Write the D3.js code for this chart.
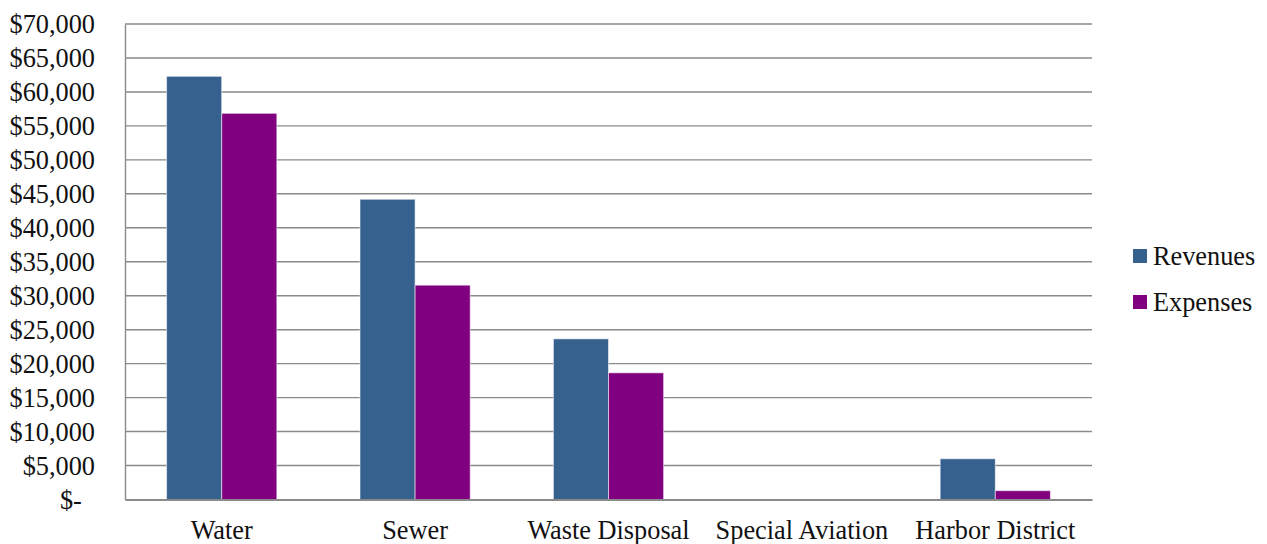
<!DOCTYPE html>
<html>
<head>
<meta charset="utf-8">
<script src="https://cdn.jsdelivr.net/npm/d3@7"></script>
<style>
  html, body { margin: 0; padding: 0; background: #fff; }
  svg { display: block; }
  text { font-family: "Liberation Serif", "Times New Roman", serif; fill: #111; }
</style>
</head>
<body>
<svg id="chart" width="1267" height="544"></svg>
<script>
// Enterprise funds: revenues and expenses by fund
const categories = ["Water", "Sewer", "Waste Disposal", "Special Aviation", "Harbor District"];
const revenues = [62300, 44200, 23650, 0, 6000];
const expenses = [56850, 31550, 18650, 0, 1300];
const seriesNames = ["Revenues", "Expenses"];
const seriesColors = ["#36618f", "#800080"];
const yTicks = [0, 5000, 10000, 15000, 20000, 25000, 30000, 35000, 40000, 45000, 50000, 55000, 60000, 65000, 70000];

const svg = d3.select("#chart");
const margin = { left: 125, right: 175, top: 24, bottom: 44.5 };
const W = 1267, H = 544;
const plotW = W - margin.left - margin.right;
const plotH = H - margin.top - margin.bottom;
const fontSize = 26.3;

const g = svg.append("g").attr("transform", `translate(${margin.left},${margin.top})`);

const x = d3.scaleBand().domain(categories).range([0, plotW]).paddingInner(0.43).paddingOuter(0.215);
const xs = d3.scaleBand().domain(seriesNames).range([0, x.bandwidth()]);
const y = d3.scaleLinear().domain([0, 70000]).range([plotH, 0]);

const fmt = v => v === 0 ? "$-\u2007" : "$" + d3.format(",")(v);

// Horizontal gridlines
g.append("g")
  .selectAll("line")
  .data(yTicks.filter(t => t > 0))
  .join("line")
  .attr("x1", 0).attr("x2", plotW)
  .attr("y1", d => y(d)).attr("y2", d => y(d))
  .attr("stroke", "#8a8a8a").attr("stroke-width", 1.4);

// Y axis
const yAxis = g.append("g")
  .call(d3.axisLeft(y).tickValues(yTicks).tickFormat(fmt).tickSize(0).tickPadding(30));
yAxis.select(".domain").attr("stroke", "#8a8a8a").attr("stroke-width", 1.4);
yAxis.selectAll("text").attr("font-size", fontSize).attr("fill", "#111")
  .attr("font-family", "'Liberation Serif', 'Times New Roman', serif").attr("dy", "0.34em");

// Bars
const data = categories.map((c, i) => ({ cat: c, vals: [revenues[i], expenses[i]] }));
const groups = g.append("g").selectAll("g")
  .data(data).join("g")
  .attr("transform", d => `translate(${x(d.cat)},0)`);
groups.selectAll("rect")
  .data(d => d.vals.map((v, j) => ({ v, s: seriesNames[j], c: seriesColors[j] })))
  .join("rect")
  .filter(d => d.v > 0)
  .attr("x", d => xs(d.s))
  .attr("width", xs.bandwidth())
  .attr("y", d => y(d.v))
  .attr("height", d => y(0) - y(d.v))
  .attr("fill", d => d.c)
  .attr("stroke", "rgba(255,255,255,0.55)")
  .attr("stroke-width", 1);

// X axis
const xAxis = g.append("g")
  .attr("transform", `translate(0,${plotH})`)
  .call(d3.axisBottom(x).tickSize(0).tickPadding(21));
xAxis.select(".domain").attr("stroke", "#8a8a8a").attr("stroke-width", 2);
xAxis.selectAll("text").attr("font-size", fontSize).attr("fill", "#111")
  .attr("font-family", "'Liberation Serif', 'Times New Roman', serif");

// Legend
const legend = svg.append("g").attr("transform", "translate(1133,249)");
const items = legend.selectAll("g").data(seriesNames).join("g")
  .attr("transform", (d, i) => `translate(0,${i * 46})`);
items.append("rect").attr("width", 14).attr("height", 14)
  .attr("fill", (d, i) => seriesColors[i]);
items.append("text").attr("x", 20).attr("y", 16)
  .attr("font-size", fontSize).text(d => d);
</script>
</body>
</html>
